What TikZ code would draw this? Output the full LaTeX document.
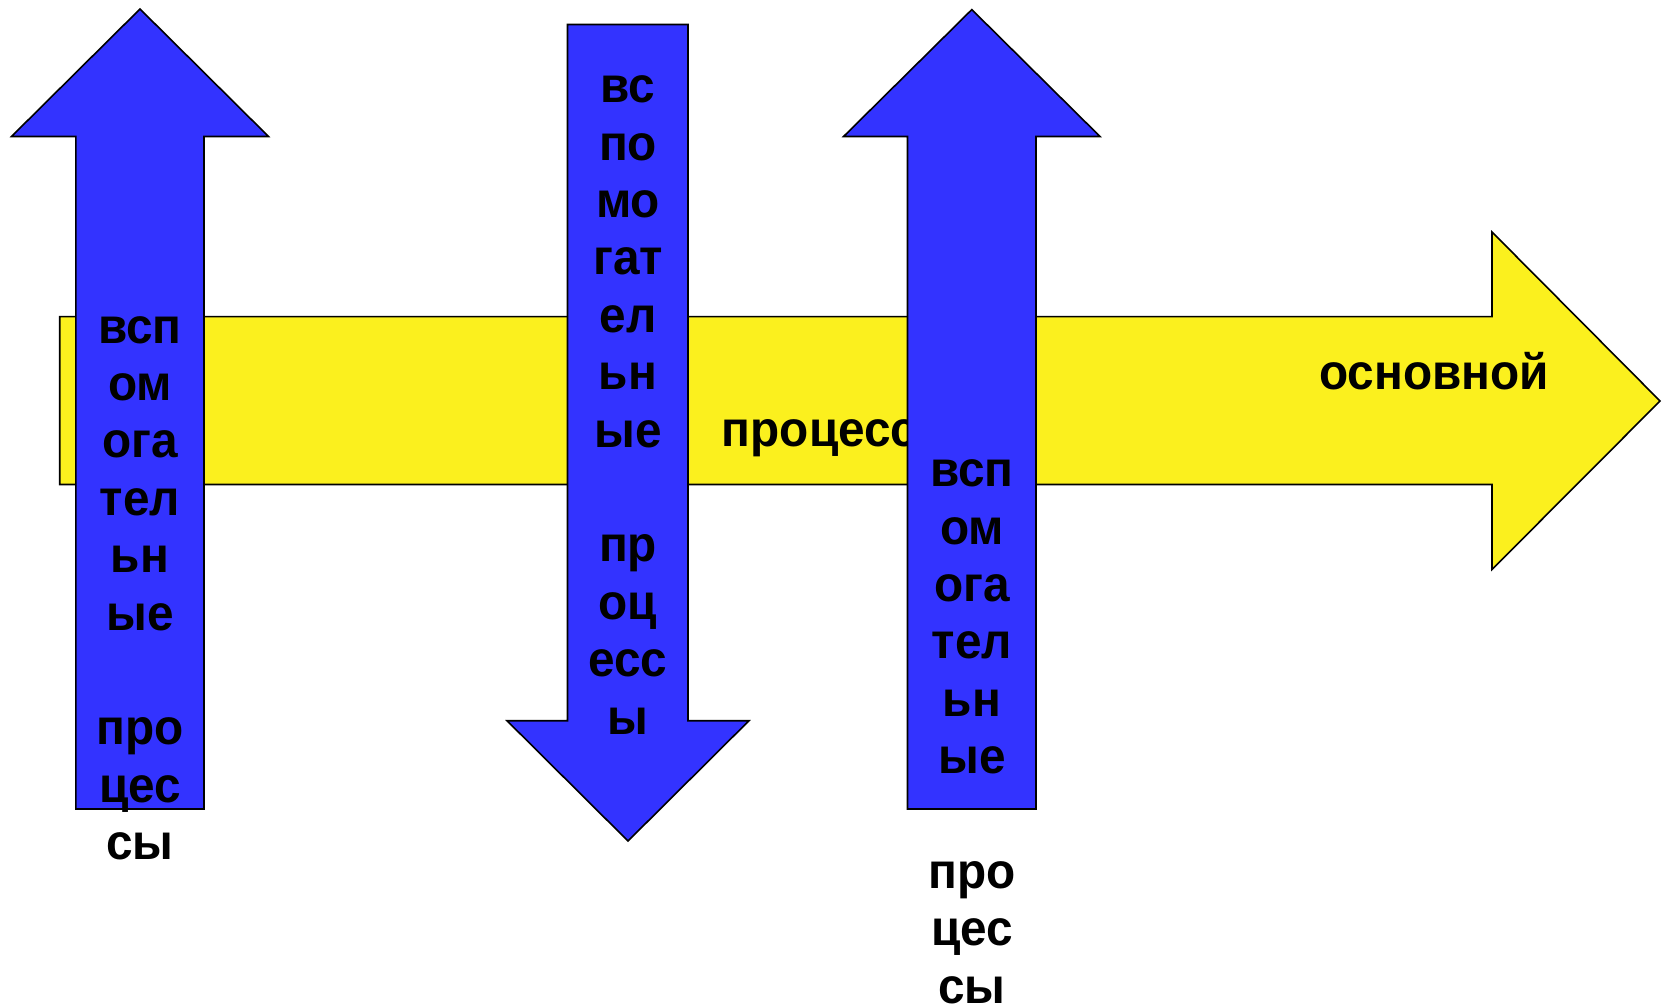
\documentclass[tikz,border=0pt]{standalone}
\usepackage{fontspec}
\setmainfont[FakeStretch=0.955]{Liberation Sans}
\definecolor{arrowblue}{RGB}{51,51,255}
\definecolor{arrowyellow}{RGB}{251,240,30}
\begin{document}
\begin{tikzpicture}[x=1pt,y=-1pt,
  outl/.style={draw=black,line width=1.6pt,line join=miter},
  lbl/.style={anchor=base,inner sep=0pt,font=\fontsize{50}{57}\selectfont\bfseries}]
\useasboundingbox (0,0) rectangle (1668,1008);
% main yellow arrow
\filldraw[outl,fill=arrowyellow] (59.7,316.7) -- (1492,316.7) -- (1492,232) -- (1660,401) -- (1492,569.5) -- (1492,484.5) -- (59.7,484.5) -- cycle;
\node[lbl,anchor=base west] (osn) at (1319,389.3) {основной};
\node[lbl,anchor=base west] (proc) at (721.6,446.7) {процесс};
% left up arrow
\filldraw[outl,fill=arrowblue] (75.8,809) -- (75.8,136.5) -- (11.5,136.5) -- (140,9) -- (268.5,136.5) -- (204,136.5) -- (204,809) -- cycle;
\foreach \t/\i in {всп/0,ом/1,ога/2,тел/3,ьн/4,ые/5,про/7,цес/8,сы/9}
  \node[lbl] (a\i) at (140,343+\i*57.4) {\t};
% middle down arrow
\filldraw[outl,fill=arrowblue] (567.5,24.5) -- (688,24.5) -- (688,720.7) -- (749,720.7) -- (628,841) -- (507,720.7) -- (567.5,720.7) -- cycle;
\foreach \t/\i in {вс/0,по/1,мо/2,гат/3,ел/4,ьн/5,ые/6,пр/8,оц/9,есс/10,ы/11}
  \node[lbl] (b\i) at (628,102.7+\i*57.4) {\t};
% right up arrow
\filldraw[outl,fill=arrowblue] (907.5,809) -- (907.5,136.5) -- (843.6,136.5) -- (971.8,9.6) -- (1100,136.5) -- (1036,136.5) -- (1036,809) -- cycle;
\foreach \t/\i in {всп/0,ом/1,ога/2,тел/3,ьн/4,ые/5,про/7,цес/8,сы/9}
  \node[lbl] (c\i) at (972,486.7+\i*57.4) {\t};
\end{tikzpicture}
\end{document}
